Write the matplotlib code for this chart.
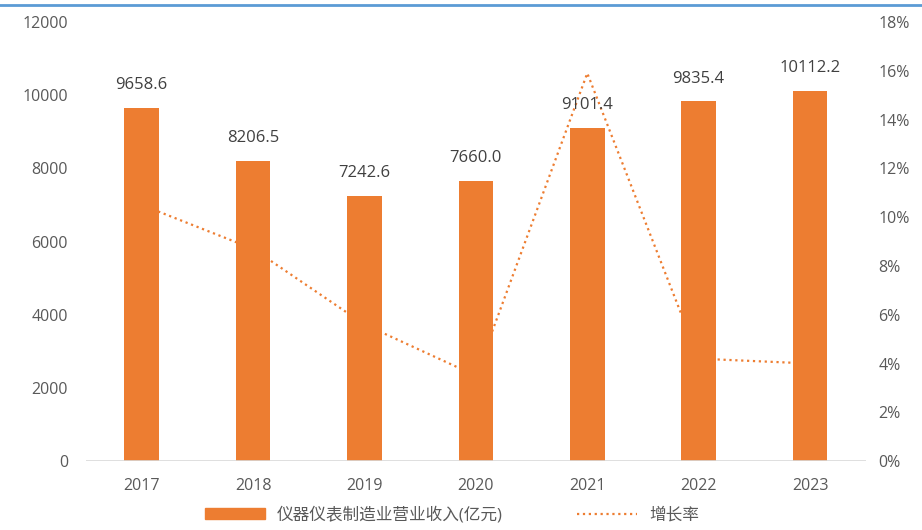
import matplotlib.pyplot as plt
from matplotlib.lines import Line2D

plt.rcParams['font.family'] = ['Open Sans', 'Noto Sans CJK SC', 'DejaVu Sans']

years = ['2017', '2018', '2019', '2020', '2021', '2022', '2023']
revenue = [9658.6, 8206.5, 7242.6, 7660.0, 9101.4, 9835.4, 10112.2]
growth = [10.5, 8.7, 5.6, 3.5, 15.9, 4.2, 4.0]

orange = '#ED7D31'
tick_c = '#595959'

fig = plt.figure(figsize=(9.22, 5.30), dpi=100)
ax = fig.add_axes([0.0933, 0.130, 0.8457, 0.8285])
ax2 = ax.twinx()

# line behind the bars
ax.set_zorder(2)
ax.patch.set_visible(False)
ax2.set_zorder(1)
ax2.patch.set_facecolor('#F2F2F2')

x = list(range(len(years)))
bars = ax.bar(x, revenue, width=0.31, color=orange, zorder=3)
for xi, v in zip(x, revenue):
    ax.text(xi, v + 620, f'{v:.1f}', ha='center', va='center',
            fontsize=12, color='#404040')

ax2.plot(x, growth, color=orange, linestyle=':', linewidth=1.6)

ax.set_xlim(-0.5, len(years) - 0.5)
ax.set_ylim(0, 12000)
ax.set_yticks(range(0, 12001, 2000))
ax2.set_ylim(0, 18)
ax2.set_yticks(range(0, 19, 2))
ax2.set_yticklabels([f'{t}%' for t in range(0, 19, 2)])
ax.set_xticks(x)
ax.set_xticklabels(years)

for a in (ax, ax2):
    for s in a.spines.values():
        s.set_visible(False)
    a.tick_params(length=0, labelsize=11.5, colors=tick_c)
ax.tick_params(axis='x', pad=12)
ax.tick_params(axis='y', pad=13)
ax2.tick_params(axis='y', pad=9)
ax.axhline(0, color='#D9D9D9', linewidth=1.2, zorder=4)

# legend at the bottom
h1 = plt.Rectangle((0, 0), 1, 1, color=orange)
h2 = Line2D([], [], color=orange, linestyle=':', linewidth=1.6)
fig.legend([h1, h2], ['仪器仪表制造业营业收入(亿元)', '增长率'],
           loc='center', bbox_to_anchor=(0.49, 0.028), ncol=2, frameon=False,
           fontsize=12, labelcolor=tick_c, handlelength=3.6, handleheight=0.6,
           columnspacing=4.5, handletextpad=0.7, borderpad=0)

# blue rule at the top
fig.add_artist(Line2D([0, 1], [0.991, 0.991], transform=fig.transFigure,
                      color='#5B9BD5', linewidth=2))

fig.savefig('out.png', dpi=100)
